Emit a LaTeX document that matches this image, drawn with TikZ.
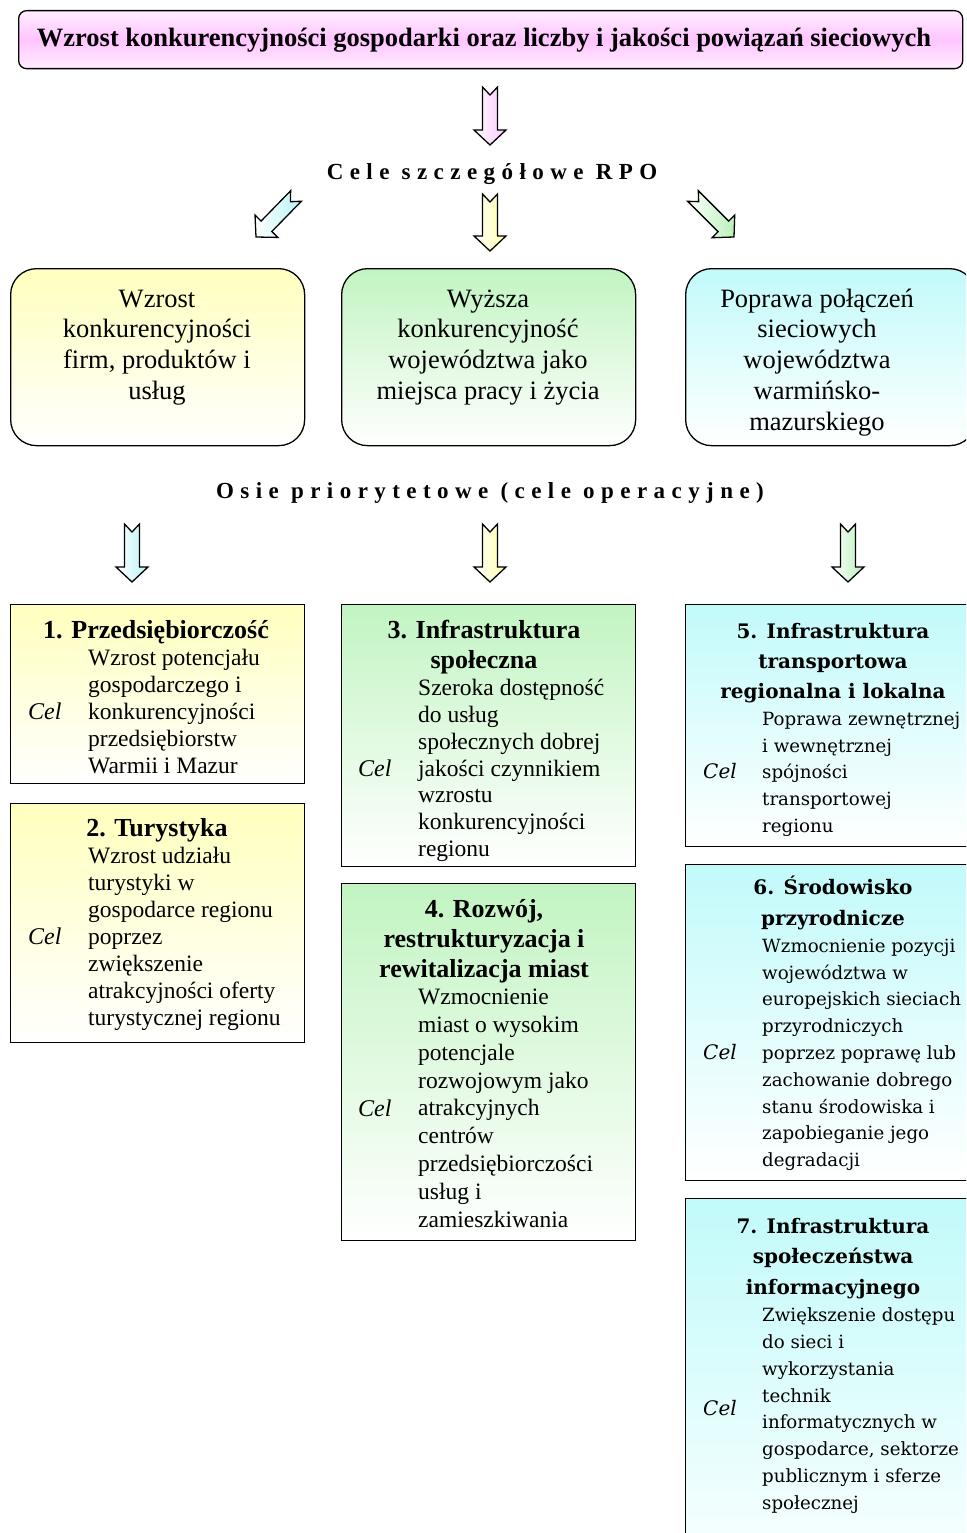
\documentclass[tikz,border=0pt]{standalone}
\usepackage{fontspec}
\setmainfont{Liberation Serif}
\newfontfamily\dvs{DejaVu Serif}
\usetikzlibrary{calc}
\definecolor{pinkc}{HTML}{FFC4FF}
\definecolor{pinkl}{HTML}{FFEEFF}
\definecolor{yel}{HTML}{FFFFBE}
\definecolor{grn}{HTML}{C2F4C2}
\definecolor{cyn}{HTML}{C2FAFA}
\definecolor{yela}{HTML}{FFFFA8}
\definecolor{grna}{HTML}{B8F0B8}
\definecolor{cyna}{HTML}{B8F4F8}
\newcommand\barrow[3]{%
  \coordinate (#1h) at ($(#2)!15pt!(#1)$);
  \shade[draw=black,line width=1.3pt,line join=miter,left color=white,right color=#3]
    ($(#1)!7.5pt!90:(#2)$) -- ($(#1h)!7.5pt!90:(#2)$) -- ($(#1h)!16pt!90:(#2)$) -- (#2)
    -- ($(#1h)!16pt!-90:(#2)$) -- ($(#1h)!7.5pt!-90:(#2)$) -- ($(#1)!7.5pt!-90:(#2)$)
    -- ($(#1)!8pt!(#2)$) -- cycle;}
\newcommand\txlines[6]{%
  \foreach \t [count=\i from 0] in {#6} {\node[#2] (#1\i) at (#3,{#4+\i*#5}) {\t};}}
\begin{document}
\begin{tikzpicture}[x=1pt,y=-1pt,
  rbox/.style={draw=black,line width=1.3pt,rounded corners=26pt,anchor=north west,inner sep=0pt,minimum width=294pt,minimum height=177pt},
  lbox/.style={draw=black,line width=1.3pt,anchor=north west,inner sep=0pt,minimum width=294pt},
  rbt/.style={inner sep=0pt,anchor=mid,yshift=-5pt,font=\fontsize{26.5}{31}\selectfont},
  ttl/.style={inner sep=0pt,anchor=mid,yshift=-5pt,font=\fontsize{26}{30}\selectfont\bfseries},
  bdy/.style={inner sep=0pt,anchor=mid west,yshift=-5pt,font=\fontsize{23.5}{27}\selectfont},
  cel/.style={inner sep=0pt,anchor=mid west,yshift=-5pt,font=\fontsize{24}{28}\selectfont\itshape},
  rttl/.style={inner sep=0pt,anchor=mid,yshift=-5pt,font=\dvs\fontsize{20}{30}\selectfont\bfseries},
  rbdy/.style={inner sep=0pt,anchor=mid west,yshift=-5pt,font=\dvs\fontsize{18.2}{27}\selectfont},
  rcel/.style={inner sep=0pt,anchor=mid west,yshift=-5pt,font=\dvs\fontsize{20}{27}\selectfont\itshape},
  head/.style={inner sep=0pt,anchor=mid,yshift=-4pt,font=\fontsize{23}{26}\selectfont\bfseries\addfontfeatures{LetterSpace=28}}]
\useasboundingbox (0,0) rectangle (966,1533);
\clip (0,0) rectangle (966,1533);
% top box
\node[draw=black,line width=1.3pt,rounded corners=8pt,anchor=north west,minimum width=944pt,minimum height=58pt,inner sep=0pt,
  top color=pinkl,bottom color=pinkl,middle color=pinkc] (top) at (18,10) {};
\node[inner sep=0pt,anchor=mid,yshift=-5pt,font=\fontsize{26.5}{30}\selectfont\bfseries] (toptext) at (484,39)
  {Wzrost konkurencyjności gospodarki oraz liczby i jakości powiązań sieciowych};
% arrow to heading
\coordinate (a0) at (490,87); \coordinate (a0t) at (490,145);
\barrow{a0}{a0t}{pinkc}
\node[head] (cele) at (492,173) {Cele szczegółowe RPO};
\coordinate (a1) at (296,196); \coordinate (a1t) at (256,237);
\coordinate (a2) at (490,194); \coordinate (a2t) at (490,251);
\coordinate (a3) at (693,196); \coordinate (a3t) at (734,237);
\barrow{a1}{a1t}{cyna}
\barrow{a2}{a2t}{yela}
\barrow{a3}{a3t}{grna}
% rounded boxes
\node[rbox,top color=yel,bottom color=white] (r1) at (10,268) {};
\node[rbox,top color=grn,bottom color=white] (r2) at (341,268) {};
\node[rbox,top color=cyn,bottom color=white,minimum width=290pt] (r3) at (685,268) {};
\txlines{r1l}{rbt}{157}{300}{30.7}{Wzrost, konkurencyjności, {firm, produktów i}, usług}
\txlines{r2l}{rbt}{488}{300}{30.7}{Wyższa, konkurencyjność, województwa jako, miejsca pracy i życia}
\begin{scope}
\clip (685,268) rectangle (980,440);
\txlines{r3l}{rbt}{817}{300}{30.7}{Poprawa połączeń, sieciowych, województwa, warmińsko-, mazurskiego}
\end{scope}
\node[head] (osie) at (490,492) {Osie priorytetowe (cele operacyjne)};
\coordinate (a4) at (132,524); \coordinate (a4t) at (132,582);
\coordinate (a5) at (490,524); \coordinate (a5t) at (490,582);
\coordinate (a6) at (848,524); \coordinate (a6t) at (848,582);
\barrow{a4}{a4t}{cyna}
\barrow{a5}{a5t}{yela}
\barrow{a6}{a6t}{grna}
% lower boxes
\node[lbox,top color=yel,bottom color=white,minimum height=179pt] (b1) at (10,604) {};
\node[lbox,top color=yel,bottom color=white,minimum height=239pt] (b2) at (10,803) {};
\node[lbox,top color=grn,bottom color=white,minimum height=262pt] (b3) at (341,604) {};
\node[lbox,top color=grn,bottom color=white,minimum height=357pt] (b4) at (341,883) {};
\node[lbox,top color=cyn,bottom color=white,minimum height=242pt] (b5) at (685,604) {};
\node[lbox,top color=cyn,bottom color=white,minimum height=316pt] (b6) at (685,864) {};
\node[lbox,top color=cyn,bottom color=white,minimum height=400pt] (b7) at (685,1198) {};
% box 1
\txlines{b1t}{ttl}{156}{631}{30}{1. Przedsiębiorczość}
\txlines{b1b}{bdy}{88}{658}{27}{Wzrost potencjału, gospodarczego i, konkurencyjności, przedsiębiorstw, Warmii i Mazur}
\node[cel] (b1c) at (28,712) {Cel};
% box 2
\txlines{b2t}{ttl}{157}{829}{30}{2. Turystyka}
\txlines{b2b}{bdy}{88}{856}{27}{Wzrost udziału, turystyki w, gospodarce regionu, poprzez, zwiększenie, atrakcyjności oferty, turystycznej regionu}
\node[cel] (b2c) at (28,937) {Cel};
% box 3
\txlines{b3t}{ttl}{484}{631}{30}{3. Infrastruktura, społeczna}
\txlines{b3b}{bdy}{418}{688}{26.9}{Szeroka dostępność, do usług, społecznych dobrej, jakości czynnikiem, wzrostu, konkurencyjności, regionu}
\node[cel] (b3c) at (358,769) {Cel};
% box 4
\txlines{b4t}{ttl}{484}{910}{30}{{4. Rozwój,}, restrukturyzacja i, rewitalizacja miast}
\txlines{b4b}{bdy}{418}{997}{27.9}{Wzmocnienie, miast o wysokim, potencjale, rozwojowym jako, atrakcyjnych, centrów, przedsiębiorczości, usług i, zamieszkiwania}
\node[cel] (b4c) at (358,1109) {Cel};
% box 5
\txlines{b5t}{rttl}{833}{631}{30}{5. Infrastruktura, transportowa, regionalna i lokalna}
\txlines{b5b}{rbdy}{762}{718}{26.8}{Poprawa zewnętrznej, i wewnętrznej, spójności, transportowej, regionu}
\node[rcel] (b5c) at (703,771) {Cel};
% box 6
\txlines{b6t}{rttl}{833}{887}{31}{6. Środowisko, przyrodnicze}
\txlines{b6b}{rbdy}{762}{945}{26.8}{Wzmocnienie pozycji, województwa w, europejskich sieciach, przyrodniczych, poprzez poprawę lub, zachowanie dobrego, stanu środowiska i, zapobieganie jego, degradacji}
\node[rcel] (b6c) at (703,1052) {Cel};
% box 7
\txlines{b7t}{rttl}{833}{1226}{30.5}{7. Infrastruktura, społeczeństwa, informacyjnego}
\txlines{b7b}{rbdy}{762}{1314}{26.9}{Zwiększenie dostępu, do sieci i, wykorzystania, technik, informatycznych w, {gospodarce, sektorze}, publicznym i sferze, społecznej}
\node[rcel] (b7c) at (703,1408) {Cel};
\end{tikzpicture}
\end{document}
